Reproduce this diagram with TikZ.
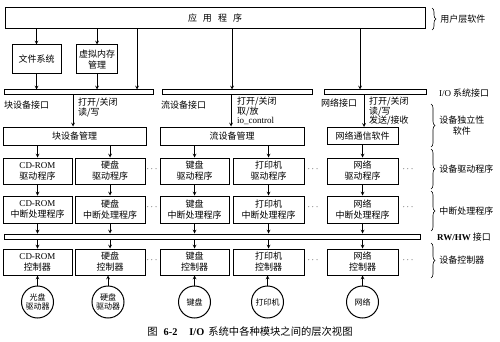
\documentclass[tikz,border=0pt]{standalone}
\usepackage{fontspec}
\setmainfont{Noto Sans CJK SC}
\newfontfamily\lat{Liberation Serif}
\usetikzlibrary{arrows,positioning,decorations.pathreplacing}

\begin{document}
\begin{tikzpicture}[x=1pt,y=-1pt,>=stealth,
  box/.style={draw,line width=1pt,inner sep=0pt,align=center,font=\fontsize{9}{11}\selectfont},
  bar/.style={draw,line width=1pt,inner sep=0pt,minimum height=5pt},
  dev/.style={draw,circle,line width=1pt,inner sep=0pt,minimum size=32pt,align=center,font=\fontsize{8}{9.5}\selectfont},
  ifc/.style={anchor=west,inner sep=0pt,font=\fontsize{9}{11}\selectfont},
  note/.style={anchor=north west,align=left,inner sep=0pt,font=\fontsize{9}{9.8}\selectfont},
  side/.style={anchor=west,inner sep=0pt,align=center,font=\fontsize{9}{11}\selectfont},
  dots/.style={inner sep=0pt,font=\fontsize{9}{11}\selectfont},
  lay/.style={decorate,decoration={brace,amplitude=4pt},line width=0.6pt},
  link/.style={->,line width=0.7pt}]
\useasboundingbox (0,0) rectangle (500,342);

% user level
\node[box,minimum width=420pt,minimum height=21pt] (app) at (215,18.5) {应\hspace{6pt}用\hspace{6pt}程\hspace{6pt}序};
\node[box,minimum width=49pt,minimum height=29pt] (fs) at (36.5,59.5) {文件系统};
\node[box,minimum width=41pt,minimum height=29pt] (vm) at (97,59.5) {虚拟内存\\管理};

% I/O system interfaces
\node[bar,minimum width=149pt] (bbar) at (78.5,92.5) {};
\node[bar,minimum width=150pt] (sbar) at (237,92.5) {};
\node[bar,minimum width=102pt] (nbar) at (375,92.5) {};
\coordinate (x1) at (137,0);
\coordinate (x2) at (232,0);
\coordinate (x3) at (360,0);
\draw[link] (app.south -| fs) -- (fs.north);
\draw[link] (app.south -| vm) -- (vm.north);
\draw[link] (app.south -| x1) -- (bbar.north -| x1);
\draw[link] (app.south -| x2) -- (sbar.north -| x2);
\draw[link] (app.south -| x3) -- (nbar.north -| x3);
\draw[link] (fs.south) -- (bbar.north -| fs);
\draw[link] (vm.south) -- (bbar.north -| vm);

% device independent software
\node[box,minimum width=143pt,minimum height=18pt] (bdm) at (74.5,136) {块设备管理};
\node[box,minimum width=144pt,minimum height=18pt] (sdm) at (232,136) {流设备管理};
\node[box,minimum width=71pt,minimum height=17pt] (ndm) at (362.5,136) {网络通信软件};
\node[ifc] (bif) at (4,105) {块设备接口};
\node[ifc] (sif) at (161,105) {流设备接口};
\node[ifc] (nif) at (321,103) {网络接口};
\node[note] (bops) at (78,97.5) {打开/关闭\\读/写};
\node[note] (sops) at (237,96.5) {打开/关闭\\取/放\\{\lat io\_control}};
\node[note] (nops) at (369,96.5) {打开/关闭\\读/写\\发送/接收};
\coordinate (a1) at (73,0);
\coordinate (a2) at (231,0);
\coordinate (a3) at (364,0);
\draw[link] (bbar.south -| a1) -- (bdm.north -| a1);
\draw[link] (sbar.south -| a2) -- (sdm.north -| a2);
\draw[link] (nbar.south -| a3) -- (ndm.north -| a3);

% device drivers
\node[box,minimum width=69pt,minimum height=26pt] (d1) at (37.5,171) {{\lat CD-ROM}\\驱动程序};
\node[box,minimum width=70pt,minimum height=26pt] (d2) at (110,171) {硬盘\\驱动程序};
\node[box,minimum width=69pt,minimum height=26pt] (d3) at (194.5,171) {键盘\\驱动程序};
\node[box,minimum width=71pt,minimum height=26pt] (d4) at (268.5,171) {打印机\\驱动程序};
\node[box,minimum width=71pt,minimum height=26pt] (d5) at (362.5,171) {网络\\驱动程序};
\node[dots] (dd1) at (152,169) {$\cdots$};
\node[dots] (dd2) at (313,169) {$\cdots$};
\node[dots] (dd3) at (408,169) {$\cdots$};
\draw[link] (bdm.south -| d1) -- (d1.north);
\draw[link] (bdm.south -| d2) -- (d2.north);
\draw[link] (sdm.south -| d3) -- (d3.north);
\draw[link] (sdm.south -| d4) -- (d4.north);
\draw[link] (ndm.south -| d5) -- (d5.north);

% interrupt handlers
\node[box,minimum width=69pt,minimum height=27pt] (i1) at (37.5,209.5) {{\lat CD-ROM}\\中断处理程序};
\node[box,minimum width=70pt,minimum height=27pt] (i2) at (110,209.5) {硬盘\\中断处理程序};
\node[box,minimum width=69pt,minimum height=27pt] (i3) at (194.5,209.5) {键盘\\中断处理程序};
\node[box,minimum width=71pt,minimum height=27pt] (i4) at (268.5,209.5) {打印机\\中断处理程序};
\node[box,minimum width=71pt,minimum height=27pt] (i5) at (362.5,209.5) {网络\\中断处理程序};
\node[dots] (id1) at (152,207) {$\cdots$};
\node[dots] (id2) at (313,207) {$\cdots$};
\node[dots] (id3) at (408,207) {$\cdots$};
\draw[link] (d1) -- (i1);
\draw[link] (d2) -- (i2);
\draw[link] (d3) -- (i3);
\draw[link] (d4) -- (i4);
\draw[link] (d5) -- (i5);

% RW/HW interface
\node[bar,minimum width=416pt] (rbar) at (212,236.5) {};
\draw[link] (i1) -- (rbar.north -| i1);
\draw[link] (i2) -- (rbar.north -| i2);
\draw[link] (i3) -- (rbar.north -| i3);
\draw[link] (i4) -- (rbar.north -| i4);
\draw[link] (i5) -- (rbar.north -| i5);

% device controllers
\node[box,minimum width=69pt,minimum height=26pt] (c1) at (37.5,262) {{\lat CD-ROM}\\控制器};
\node[box,minimum width=70pt,minimum height=26pt] (c2) at (110,262) {硬盘\\控制器};
\node[box,minimum width=69pt,minimum height=26pt] (c3) at (194.5,262) {键盘\\控制器};
\node[box,minimum width=71pt,minimum height=26pt] (c4) at (268.5,262) {打印机\\控制器};
\node[box,minimum width=71pt,minimum height=26pt] (c5) at (362.5,262) {网络\\控制器};
\node[dots] (cd1) at (152,260) {$\cdots$};
\node[dots] (cd2) at (313,260) {$\cdots$};
\node[dots] (cd3) at (408,260) {$\cdots$};
\draw[link] (rbar.south -| c1) -- (c1);
\draw[link] (rbar.south -| c2) -- (c2);
\draw[link] (rbar.south -| c3) -- (c3);
\draw[link] (rbar.south -| c4) -- (c4);
\draw[link] (rbar.south -| c5) -- (c5);

% devices
\node[dev] (e1) at (37.5,302) {光盘\\驱动器};
\node[dev] (e2) at (108,302) {硬盘\\驱动器};
\node[dev] (e3) at (194.5,302) {键盘};
\node[dev] (e4) at (267.5,302) {打印机};
\node[dev] (e5) at (362.5,302) {网络};
\draw[link] (e1) -- (c1.south -| e1);
\draw[link] (e2) -- (c2.south -| e2);
\draw[link] (e3) -- (c3);
\draw[link] (e4) -- (c4.south -| e4);
\draw[link] (e5) -- (c5);

% layer labels
\draw[lay] (432,8) -- (432,30) node[side,midway,right=8pt] (l1) {用户层软件};
\node[side] (l2) at (439,93) {{\lat I/O} 系统接口};
\draw[lay] (431,104) -- (431,147) node[side,midway,right=8pt] (l3) {设备独立性\\软件};
\draw[lay] (431,149) -- (431,189) node[side,midway,right=8pt] (l4) {设备驱动程序};
\draw[lay] (431,191) -- (431,231) node[side,midway,right=8pt] (l5) {中断处理程序};
\node[side] (l6) at (437,237) {{\lat\bfseries RW/HW} 接口};
\draw[lay] (431,243) -- (431,278) node[side,midway,right=8pt] (l7) {设备控制器};

% caption
\node[font=\fontsize{10.3}{12}\selectfont] (cap) at (250,332) {图\hspace{6pt}{\lat\bfseries 6-2}\hspace{12pt}{\lat\bfseries I/O}\hspace{4pt}系统中各种模块之间的层次视图};
\end{tikzpicture}
\end{document}
